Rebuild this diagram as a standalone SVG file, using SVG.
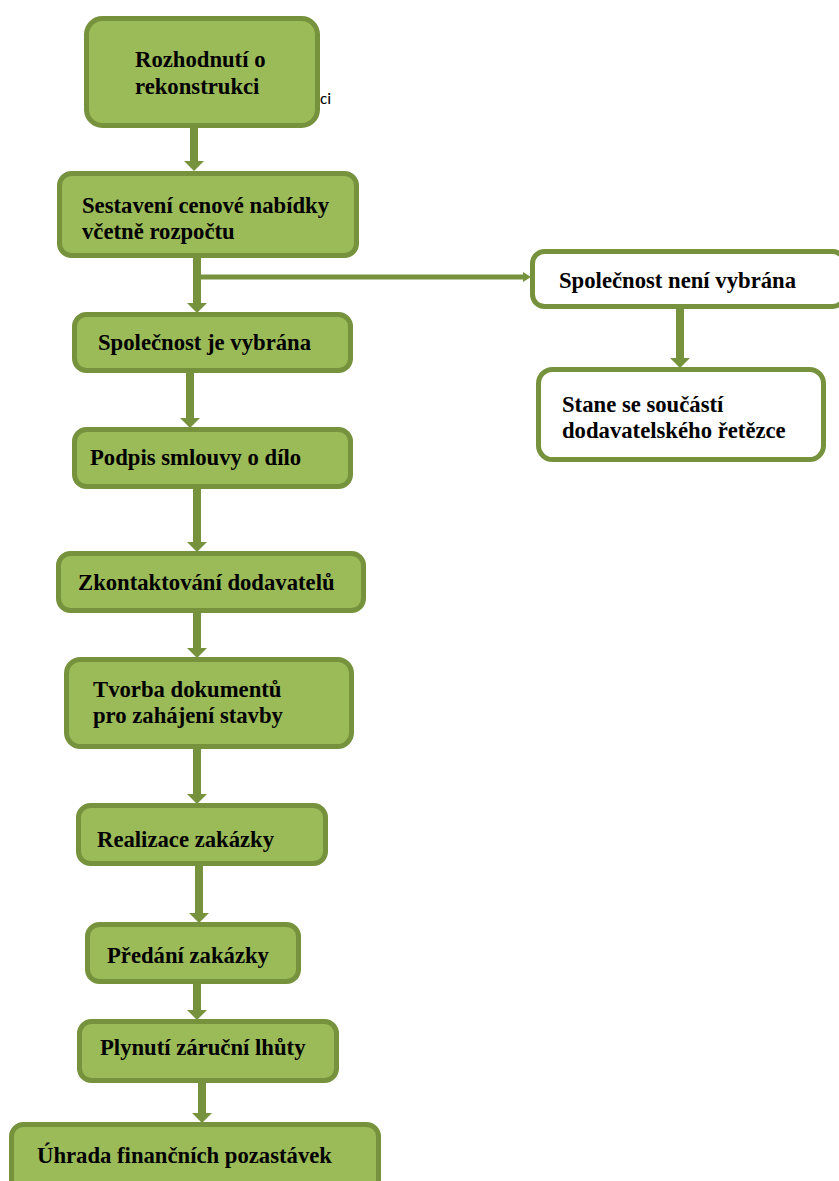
<svg xmlns="http://www.w3.org/2000/svg" width="839" height="1181" viewBox="0 0 839 1181">
<style>
.g{fill:#9BBB59;stroke:#76923C;stroke-width:5}
.w{fill:#FFFFFF;stroke:#76923C;stroke-width:5}
.t{font-family:"Liberation Serif","Times New Roman",serif;font-weight:bold;font-size:22.7px;fill:#000}
.c{stroke:#76923C;stroke-width:8;fill:none}
.c2{stroke:#76923C;stroke-width:5;fill:none}
</style>
<defs>
<marker id="ah" markerUnits="userSpaceOnUse" markerWidth="10" markerHeight="20" refX="0" refY="10" orient="auto" viewBox="0 0 10 20">
<path d="M0,0 L10,10 L0,20 z" fill="#76923C"/>
</marker>
<marker id="ah2" markerUnits="userSpaceOnUse" markerWidth="8" markerHeight="10" refX="0" refY="5" orient="auto" viewBox="0 0 8 10">
<path d="M0,0 L8,5 L0,10 z" fill="#76923C"/>
</marker>
</defs>
<rect width="839" height="1181" fill="#fff"/>
<g id="connectors">
<line class="c" x1="194" y1="128" x2="194" y2="161" marker-end="url(#ah)"/>
<line class="c" x1="197" y1="258" x2="197" y2="303" marker-end="url(#ah)"/>
<line class="c2" x1="197" y1="277" x2="523" y2="277" marker-end="url(#ah2)"/>
<line class="c" x1="680" y1="308" x2="680" y2="358" marker-end="url(#ah)"/>
<line class="c" x1="190" y1="372" x2="190" y2="418" marker-end="url(#ah)"/>
<line class="c" x1="197" y1="488" x2="197" y2="542" marker-end="url(#ah)"/>
<line class="c" x1="197" y1="612" x2="197" y2="648" marker-end="url(#ah)"/>
<line class="c" x1="197" y1="748" x2="197" y2="794" marker-end="url(#ah)"/>
<line class="c" x1="199" y1="865" x2="199" y2="913" marker-end="url(#ah)"/>
<line class="c" x1="197" y1="983" x2="197" y2="1010" marker-end="url(#ah)"/>
<line class="c" x1="202" y1="1082" x2="202" y2="1113" marker-end="url(#ah)"/>
</g>
<g id="n1">
<rect class="g" x="86.5" y="18.5" width="231" height="107" rx="16"/>
<text class="t" x="135" y="67">Rozhodnutí o</text>
<text class="t" x="135" y="94">rekonstrukci</text>
</g>
<text x="320" y="104" style="font-family:Carlito,'Liberation Sans',Arial,sans-serif;font-size:17px;fill:#000">ci</text>
<g id="n2">
<rect class="g" x="59.5" y="173.5" width="297" height="82" rx="12"/>
<text class="t" x="82" y="213">Sestavení cenové nabídky</text>
<text class="t" x="82" y="239">včetně rozpočtu</text>
</g>
<g id="n3">
<rect class="w" x="532.5" y="251.5" width="312" height="55" rx="12"/>
<text class="t" x="559" y="288">Společnost není vybrána</text>
</g>
<g id="n4">
<rect class="w" x="538.5" y="369.5" width="285" height="90" rx="14"/>
<text class="t" x="562" y="412">Stane se součástí</text>
<text class="t" x="562" y="438">dodavatelského řetězce</text>
</g>
<g id="n5">
<rect class="g" x="74.5" y="314.5" width="276" height="56" rx="12"/>
<text class="t" x="98" y="350">Společnost je vybrána</text>
</g>
<g id="n6">
<rect class="g" x="74.5" y="429.5" width="276" height="57" rx="12"/>
<text class="t" x="90" y="465">Podpis smlouvy  o dílo</text>
</g>
<g id="n7">
<rect class="g" x="58.5" y="553.5" width="305" height="57" rx="12"/>
<text class="t" x="78" y="590">Zkontaktování dodavatelů</text>
</g>
<g id="n8">
<rect class="g" x="66.5" y="659.5" width="285" height="87" rx="14"/>
<text class="t" x="93" y="697">Tvorba dokumentů</text>
<text class="t" x="93" y="723">pro zahájení stavby</text>
</g>
<g id="n9">
<rect class="g" x="78.5" y="805.5" width="247" height="58" rx="12"/>
<text class="t" x="97" y="847">Realizace zakázky</text>
</g>
<g id="n10">
<rect class="g" x="87.5" y="924.5" width="211" height="57" rx="12"/>
<text class="t" x="107" y="963">Předání zakázky</text>
</g>
<g id="n11">
<rect class="g" x="79.5" y="1021.5" width="257" height="59" rx="12"/>
<text class="t" x="100" y="1055">Plynutí záruční lhůty</text>
</g>
<g id="n12">
<rect class="g" x="11.5" y="1124.5" width="367" height="70" rx="12"/>
<text class="t" x="37" y="1163">Úhrada finančních pozastávek</text>
</g>
</svg>
